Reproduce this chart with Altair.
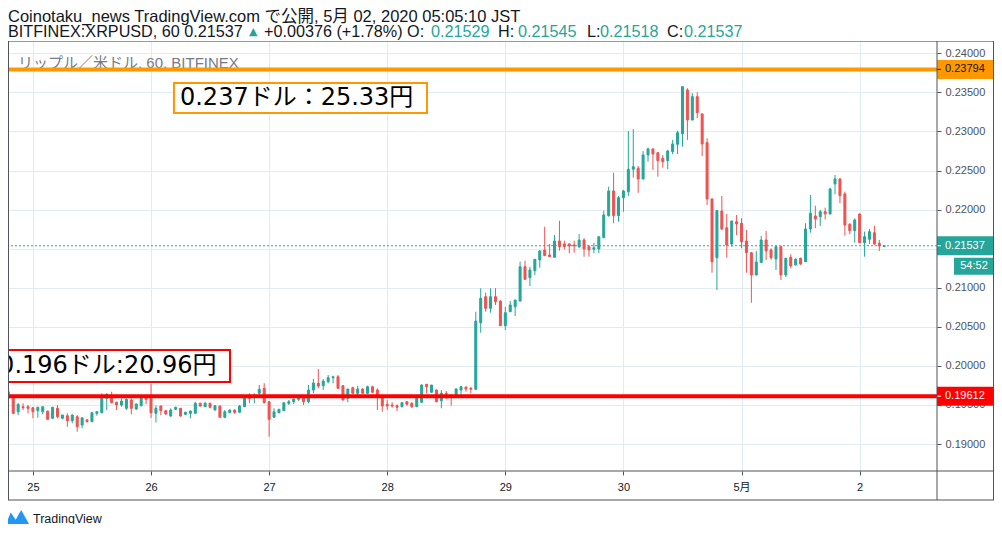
import altair as alt
import pandas as pd

# ---------------- data ----------------
first_candle = "2020-04-24 19:00"   # JST, hourly candles
opens = [0.19669,0.19585,0.19413,0.19477,0.19477,0.19464,0.19426,0.19413,0.19422,0.19329,
         0.19457,0.19329,0.19362,0.19298,0.19349,0.19243,0.19307,0.19285,0.19393,0.19400,
         0.19585,0.19598,0.19534,0.19499,0.19457,0.19563,0.19448,0.19490,0.19598,0.19605,
         0.19393,0.19486,0.19426,0.19358,0.19444,0.19457,0.19380,0.19393,0.19393,0.19521,
         0.19477,0.19521,0.19435,0.19486,0.19342,0.19400,0.19435,0.19406,0.19477,0.19627,
         0.19605,0.19649,0.19713,0.19541,0.19342,0.19400,0.19426,0.19521,0.19541,0.19572,
         0.19605,0.19541,0.19691,0.19777,0.19746,0.19797,0.19848,0.19861,0.19746,0.19585,
         0.19720,0.19649,0.19704,0.19649,0.19733,0.19691,0.19605,0.19508,0.19499,0.19490,
         0.19477,0.19541,0.19521,0.19477,0.19534,0.19764,0.19662,0.19691,0.19554,0.19649,
         0.19627,0.19627,0.19691,0.19726,0.19713,0.19700,0.20552,0.20885,0.20737,0.20885,
         0.20830,0.20514,0.20693,0.20757,0.20830,0.21269,0.21128,0.21218,0.21355,0.21483,
         0.21419,0.21390,0.21598,0.21560,0.21560,0.21547,0.21525,0.21611,0.21525,0.21492,
         0.21496,0.21640,0.21922,0.22238,0.21922,0.22152,0.22229,0.22516,0.22529,0.22392,
         0.22699,0.22776,0.22728,0.22657,0.22626,0.22741,0.22836,0.22968,0.23531,0.23147,
         0.23445,0.23224,0.22857,0.22136,0.21384,0.21982,0.21768,0.21560,0.21845,0.21825,
         0.21598,0.21448,0.21163,0.21324,0.21611,0.21483,0.21368,0.21525,0.21163,0.21390,
         0.21291,0.21377,0.21333,0.21752,0.21918,0.21909,0.21973,0.21944,0.22328,0.22392,
         0.22200,0.21812,0.21730,0.21944,0.21576,0.21620,0.21704,0.21569,0.21529]
highs = [0.19678,0.19589,0.19521,0.19521,0.19499,0.19473,0.19477,0.19477,0.19422,0.19470,
         0.19499,0.19371,0.19393,0.19380,0.19371,0.19336,0.19320,0.19413,0.19422,0.19649,
         0.19649,0.19669,0.19541,0.19585,0.19585,0.19585,0.19518,0.19595,0.19608,0.19768,
         0.19493,0.19493,0.19435,0.19457,0.19477,0.19461,0.19413,0.19429,0.19541,0.19528,
         0.19541,0.19528,0.19499,0.19493,0.19435,0.19441,0.19444,0.19499,0.19627,0.19649,
         0.19649,0.19755,0.19778,0.19550,0.19457,0.19444,0.19528,0.19563,0.19582,0.19614,
         0.19614,0.19755,0.19832,0.19960,0.19832,0.19883,0.19874,0.19883,0.19749,0.19704,
         0.19733,0.19746,0.19713,0.19746,0.19746,0.19713,0.19608,0.19563,0.19534,0.19508,
         0.19534,0.19550,0.19534,0.19592,0.19764,0.19768,0.19755,0.19697,0.19691,0.19678,
         0.19633,0.19713,0.19742,0.19742,0.19733,0.20693,0.20993,0.20936,0.20993,0.20993,
         0.20837,0.20757,0.20830,0.20843,0.21333,0.21346,0.21269,0.21364,0.21483,0.21781,
         0.21560,0.21675,0.21858,0.21602,0.21566,0.21602,0.21688,0.21633,0.21547,0.21576,
         0.21653,0.21986,0.22293,0.22472,0.22174,0.22251,0.23006,0.23032,0.22558,0.22750,
         0.22792,0.22782,0.22731,0.22699,0.22763,0.22891,0.23010,0.23573,0.23553,0.23489,
         0.23502,0.23230,0.22913,0.22142,0.21995,0.22174,0.21944,0.21854,0.21931,0.21889,
         0.21739,0.21457,0.21470,0.21662,0.21726,0.21505,0.21538,0.21534,0.21377,0.21428,
         0.21377,0.21384,0.21825,0.22187,0.22050,0.21995,0.22024,0.22280,0.22443,0.22401,
         0.22229,0.21825,0.21889,0.21950,0.21717,0.21752,0.21793,0.21611,0.21545]
lows = [0.19457,0.19380,0.19371,0.19435,0.19393,0.19329,0.19336,0.19380,0.19307,0.19326,
        0.19329,0.19316,0.19221,0.19265,0.19157,0.19201,0.19275,0.19285,0.19362,0.19393,
        0.19435,0.19521,0.19435,0.19477,0.19435,0.19380,0.19435,0.19480,0.19508,0.19333,
        0.19275,0.19371,0.19371,0.19349,0.19435,0.19349,0.19371,0.19329,0.19390,0.19477,
        0.19473,0.19457,0.19429,0.19339,0.19329,0.19397,0.19384,0.19400,0.19473,0.19521,
        0.19521,0.19627,0.19521,0.19093,0.19333,0.19393,0.19422,0.19499,0.19512,0.19550,
        0.19499,0.19521,0.19649,0.19713,0.19691,0.19777,0.19777,0.19704,0.19557,0.19534,
        0.19646,0.19627,0.19646,0.19646,0.19659,0.19435,0.19413,0.19435,0.19464,0.19422,
        0.19470,0.19490,0.19464,0.19473,0.19531,0.19649,0.19659,0.19534,0.19457,0.19576,
        0.19490,0.19585,0.19627,0.19669,0.19649,0.19697,0.20424,0.20693,0.20680,0.20779,
        0.20510,0.20459,0.20689,0.20638,0.20824,0.21099,0.21022,0.21163,0.21256,0.21406,
        0.21393,0.21387,0.21474,0.21492,0.21441,0.21448,0.21505,0.21397,0.21397,0.21441,
        0.21441,0.21637,0.21909,0.21825,0.21845,0.21973,0.22174,0.22408,0.22216,0.22385,
        0.22613,0.22507,0.22421,0.22536,0.22516,0.22708,0.22712,0.22805,0.22891,0.23141,
        0.23169,0.22686,0.22059,0.21192,0.20971,0.21739,0.21384,0.21525,0.21675,0.21505,
        0.21192,0.20808,0.21157,0.21320,0.21355,0.21355,0.21227,0.21099,0.21137,0.21249,
        0.21282,0.21291,0.21329,0.21704,0.21761,0.21790,0.21876,0.21937,0.22196,0.22081,
        0.21666,0.21684,0.21576,0.21573,0.21397,0.21560,0.21547,0.21470,0.21518]
closes = [0.19585,0.19393,0.19508,0.19464,0.19457,0.19413,0.19470,0.19477,0.19316,0.19470,
          0.19349,0.19371,0.19298,0.19371,0.19221,0.19336,0.19285,0.19400,0.19413,0.19585,
          0.19636,0.19528,0.19499,0.19550,0.19572,0.19457,0.19512,0.19585,0.19572,0.19400,
          0.19457,0.19426,0.19384,0.19435,0.19470,0.19358,0.19406,0.19422,0.19521,0.19486,
          0.19521,0.19470,0.19490,0.19342,0.19413,0.19435,0.19406,0.19486,0.19592,0.19585,
          0.19627,0.19700,0.19528,0.19316,0.19413,0.19444,0.19528,0.19541,0.19576,0.19592,
          0.19541,0.19691,0.19781,0.19742,0.19806,0.19848,0.19861,0.19713,0.19563,0.19704,
          0.19649,0.19704,0.19649,0.19733,0.19662,0.19627,0.19486,0.19486,0.19486,0.19470,
          0.19528,0.19508,0.19477,0.19585,0.19755,0.19733,0.19755,0.19541,0.19649,0.19636,
          0.19614,0.19704,0.19733,0.19704,0.19700,0.20574,0.20865,0.20737,0.20885,0.20821,
          0.20514,0.20680,0.20779,0.20843,0.21269,0.21108,0.21227,0.21364,0.21470,0.21410,
          0.21397,0.21598,0.21525,0.21525,0.21534,0.21534,0.21611,0.21496,0.21483,0.21512,
          0.21653,0.21931,0.22238,0.21922,0.22152,0.22238,0.22516,0.22549,0.22392,0.22699,
          0.22776,0.22712,0.22626,0.22613,0.22750,0.22840,0.22984,0.23573,0.23147,0.23445,
          0.23240,0.22840,0.22136,0.21333,0.21986,0.21752,0.21547,0.21854,0.21816,0.21589,
          0.21448,0.21163,0.21329,0.21611,0.21470,0.21384,0.21525,0.21163,0.21377,0.21278,
          0.21364,0.21304,0.21752,0.21953,0.21880,0.21973,0.21944,0.22264,0.22392,0.22178,
          0.21803,0.21730,0.21867,0.21576,0.21653,0.21717,0.21560,0.21534,0.21537]

y_ticks = [0.19, 0.195, 0.20, 0.205, 0.21, 0.215, 0.22, 0.225, 0.23, 0.235, 0.24]
day_ticks = [(4, 25), (4, 26), (4, 27), (4, 28), (4, 29), (4, 30), (5, 1), (5, 2)]

level_prices = [0.23794, 0.19612]        # orange / red horizontal lines
last_price = 0.21537
countdown = "54:52"

header_1 = "Coinotaku_news TradingView.com で公開, 5月 02, 2020 05:05:10 JST"
header_2 = [("BITFINEX:XRPUSD, 60 0.21537", "#131722", 0),
            ("▲", "#26a69a", 241),
            ("+0.00376 (+1.78%) O:", "#131722", 256),
            ("0.21529", "#26a69a", 423),
            ("H:", "#131722", 490),
            ("0.21545", "#26a69a", 510),
            ("L:", "#131722", 579),
            ("0.21518", "#26a69a", 592),
            ("C:", "#131722", 659),
            ("0.21537", "#26a69a", 676)]
watermark = "リップル／米ドル, 60, BITFINEX"

notes = pd.DataFrame({
    "label": ["0.237ドル：25.33円", "0.196ドル:20.96円"],
    "x1": ["2020-04-26T04:40:00Z", "2020-04-24T14:00:00Z"],
    "x2": ["2020-04-28T08:05:00Z", "2020-04-26T16:03:00Z"],
    "y1": [0.23620, 0.20203],
    "y2": [0.23236, 0.19793],
    "tx": ["2020-04-26T05:53:00Z", "2020-04-26T13:20:00Z"],
    "ty": [0.23422, 0.19992],
    "col": ["#ff9800", "#ff0000"],
})

# ---------------- styling ----------------
GREEN, RED, ORANGE, PURE_RED = "#26a69a", "#ef5350", "#ff9800", "#ff0000"
FRAME = "#50535e"
GRID = "#e1ecf2"
W, H = 929, 430
FONT = "Liberation Sans, Arial, Noto Sans CJK JP"

times = [(pd.Timestamp(first_candle) + pd.Timedelta(hours=i)).strftime("%Y-%m-%dT%H:%M:%SZ")
         for i in range(len(opens))]
df = pd.DataFrame({"t": times, "open": opens, "high": highs, "low": lows, "close": closes})
df["dir"] = ["up" if c >= o else "down" for o, c in zip(opens, closes)]

x_dom = [alt.DateTime(year=2020, month=4, date=24, hours=18, minutes=56, seconds=20, utc=True),
         alt.DateTime(year=2020, month=5, date=2, hours=15, minutes=43, seconds=20, utc=True)]
x_vals = [alt.DateTime(year=2020, month=m, date=d, utc=True) for m, d in day_ticks]
x_axis = alt.Axis(values=x_vals, title=None, grid=True, gridColor=GRID, gridWidth=1,
                  domain=False, tickColor=FRAME, tickSize=4, labelFont=FONT,
                  labelFontSize=11, labelColor="#131722", labelPadding=6, zindex=0,
                  labelExpr="utcdate(datum.value) == 1 ? (utcmonth(datum.value) + 1) + '月' : '' + utcdate(datum.value)")
y_axis = alt.Axis(orient="right", values=y_ticks, format=".5f", title=None, grid=True,
                  gridColor=GRID, gridWidth=1, domain=False, tickColor=FRAME, tickSize=4,
                  labelFont=FONT, labelFontSize=11, labelColor="#4c525e", labelPadding=4,
                  zindex=0)


def X(field):
    return alt.X(field, type="temporal",
                 scale=alt.Scale(type="utc", domain=x_dom, padding=0), axis=x_axis)


def Y(field):
    return alt.Y(field, type="quantitative",
                 scale=alt.Scale(domain=[0.186545, 0.241574], nice=False, zero=False, padding=0),
                 axis=y_axis)


dir_scale = alt.Scale(domain=["up", "down"], range=[GREEN, RED])
one = pd.DataFrame({"k": [0]})
lv = pd.DataFrame({"price": level_prices, "col": [ORANGE, PURE_RED]})
lastdf = pd.DataFrame({"price": [last_price]})

layers = []

# watermark
layers.append(alt.Chart(one).mark_text(align="left", baseline="middle", font=FONT, fontSize=15,
                                       color="#787b86")
              .encode(x=alt.value(10), y=alt.value(21.5), text=alt.value(watermark)))

# dotted last price line
layers.append(alt.Chart(lastdf).mark_rule(color=GREEN, strokeWidth=1, strokeDash=[2, 2])
              .encode(y=Y("price")))

# candles
layers.append(alt.Chart(df).mark_rule(strokeWidth=1)
              .encode(x=X("t"), y=Y("low"), y2="high",
                      color=alt.Color("dir:N", scale=dir_scale, legend=None)))
layers.append(alt.Chart(df).mark_bar(size=2, strokeWidth=1)
              .encode(x=X("t"), y=Y("open"), y2="close",
                      color=alt.Color("dir:N", scale=dir_scale, legend=None),
                      stroke=alt.Stroke("dir:N", scale=dir_scale, legend=None)))

# horizontal levels
layers.append(alt.Chart(lv).mark_rule(strokeWidth=4)
              .encode(y=Y("price"), color=alt.Color("col:N", scale=None)))

# annotation boxes
layers.append(alt.Chart(notes).mark_rect(fill="white", strokeWidth=2)
              .encode(x=X("x1"), x2="x2", y=Y("y1"), y2="y2",
                      stroke=alt.Stroke("col:N", scale=None)))
layers.append(alt.Chart(notes.iloc[[0]]).mark_text(align="left", baseline="middle",
                                                   font="DejaVu Sans, Noto Sans CJK JP",
                                                   fontSize=24, color="black")
              .encode(x=X("tx"), y=Y("ty"), text="label:N"))
layers.append(alt.Chart(notes.iloc[[1]]).mark_text(align="right", baseline="middle",
                                                   font="DejaVu Sans, Noto Sans CJK JP",
                                                   fontSize=24, color="black")
              .encode(x=X("tx"), y=Y("ty"), text="label:N"))

# right-axis price tags
tags = pd.DataFrame({"price": [level_prices[0], level_prices[1], last_price],
                     "bg": [ORANGE, PURE_RED, GREEN],
                     "fg": ["#131722", "white", "white"],
                     "txt": [f"{level_prices[0]:.5f}", f"{level_prices[1]:.5f}", f"{last_price:.5f}"]})
layers.append(alt.Chart(tags).mark_rule(strokeWidth=19)
              .encode(x=alt.value(929), x2=alt.value(986), y=Y("price"),
                      color=alt.Color("bg:N", scale=None)))
layers.append(alt.Chart(tags).mark_rule(strokeWidth=1)
              .encode(x=alt.value(929), x2=alt.value(933), y=Y("price"),
                      color=alt.Color("fg:N", scale=None)))
layers.append(alt.Chart(tags).mark_text(align="left", baseline="middle", font=FONT, fontSize=11)
              .encode(x=alt.value(937), y=Y("price"), text="txt:N",
                      color=alt.Color("fg:N", scale=None)))
layers.append(alt.Chart(lastdf).mark_rule(strokeWidth=17, color=GREEN, yOffset=20.5)
              .encode(x=alt.value(946), x2=alt.value(986), y=Y("price")))
layers.append(alt.Chart(lastdf).mark_text(align="center", baseline="middle", font=FONT,
                                          fontSize=11, color="white", yOffset=20.5)
              .encode(x=alt.value(966), y=Y("price"), text=alt.value(countdown)))

# frame
frame_lines = [
    dict(x=0, x2=986, y=0.5, y2=0.5, c="#9598a1"),
    dict(x=0, x2=986, y=430, y2=430, c=FRAME),
    dict(x=0, x2=986, y=459, y2=459, c=FRAME),
    dict(x=0.5, x2=0.5, y=0, y2=459, c=FRAME),
    dict(x=929, x2=929, y=0, y2=459, c=FRAME),
    dict(x=985.5, x2=985.5, y=0, y2=459, c=FRAME),
]
for f in frame_lines:
    layers.append(alt.Chart(one).mark_rule(strokeWidth=1, color=f["c"])
                  .encode(x=alt.value(f["x"]), x2=alt.value(f["x2"]),
                          y=alt.value(f["y"]), y2=alt.value(f["y2"])))

# header
layers.append(alt.Chart(one).mark_text(align="left", baseline="alphabetic", font=FONT,
                                       fontSize=16.5, color="#131722")
              .encode(x=alt.value(0), y=alt.value(-19), text=alt.value(header_1)))
for txt, col, px in header_2:
    is_tri = txt == "▲"
    layers.append(alt.Chart(one).mark_text(align="left", baseline="alphabetic",
                                           font="DejaVu Sans" if is_tri else FONT,
                                           fontSize=11 if is_tri else 16.2, color=col)
                  .encode(x=alt.value(px), y=alt.value(-6 if is_tri else -4),
                          text=alt.value(txt)))

# TradingView logo
layers.append(alt.Chart(one).mark_point(shape="M-1,0.6 L-0.55,-0.45 L-0.15,0.15 L0.3,-0.65 L1,0.6 Z",
                                        filled=True, color="#2196f3", size=600, opacity=1)
              .encode(x=alt.value(9.5), y=alt.value(477)))
layers.append(alt.Chart(one).mark_text(align="left", baseline="middle", font=FONT,
                                       fontSize=12.5, color="#131722")
              .encode(x=alt.value(25), y=alt.value(477.5), text=alt.value("TradingView")))

chart = alt.layer(*layers).properties(
    width=W, height=H,
    padding={"left": 0, "top": 33, "right": 57, "bottom": 53},
    autosize=alt.AutoSizeParams(type="none"),
    background="white",
).configure_view(stroke=None)

chart.save("out.html", embed_options={"renderer": "svg", "actions": False})
